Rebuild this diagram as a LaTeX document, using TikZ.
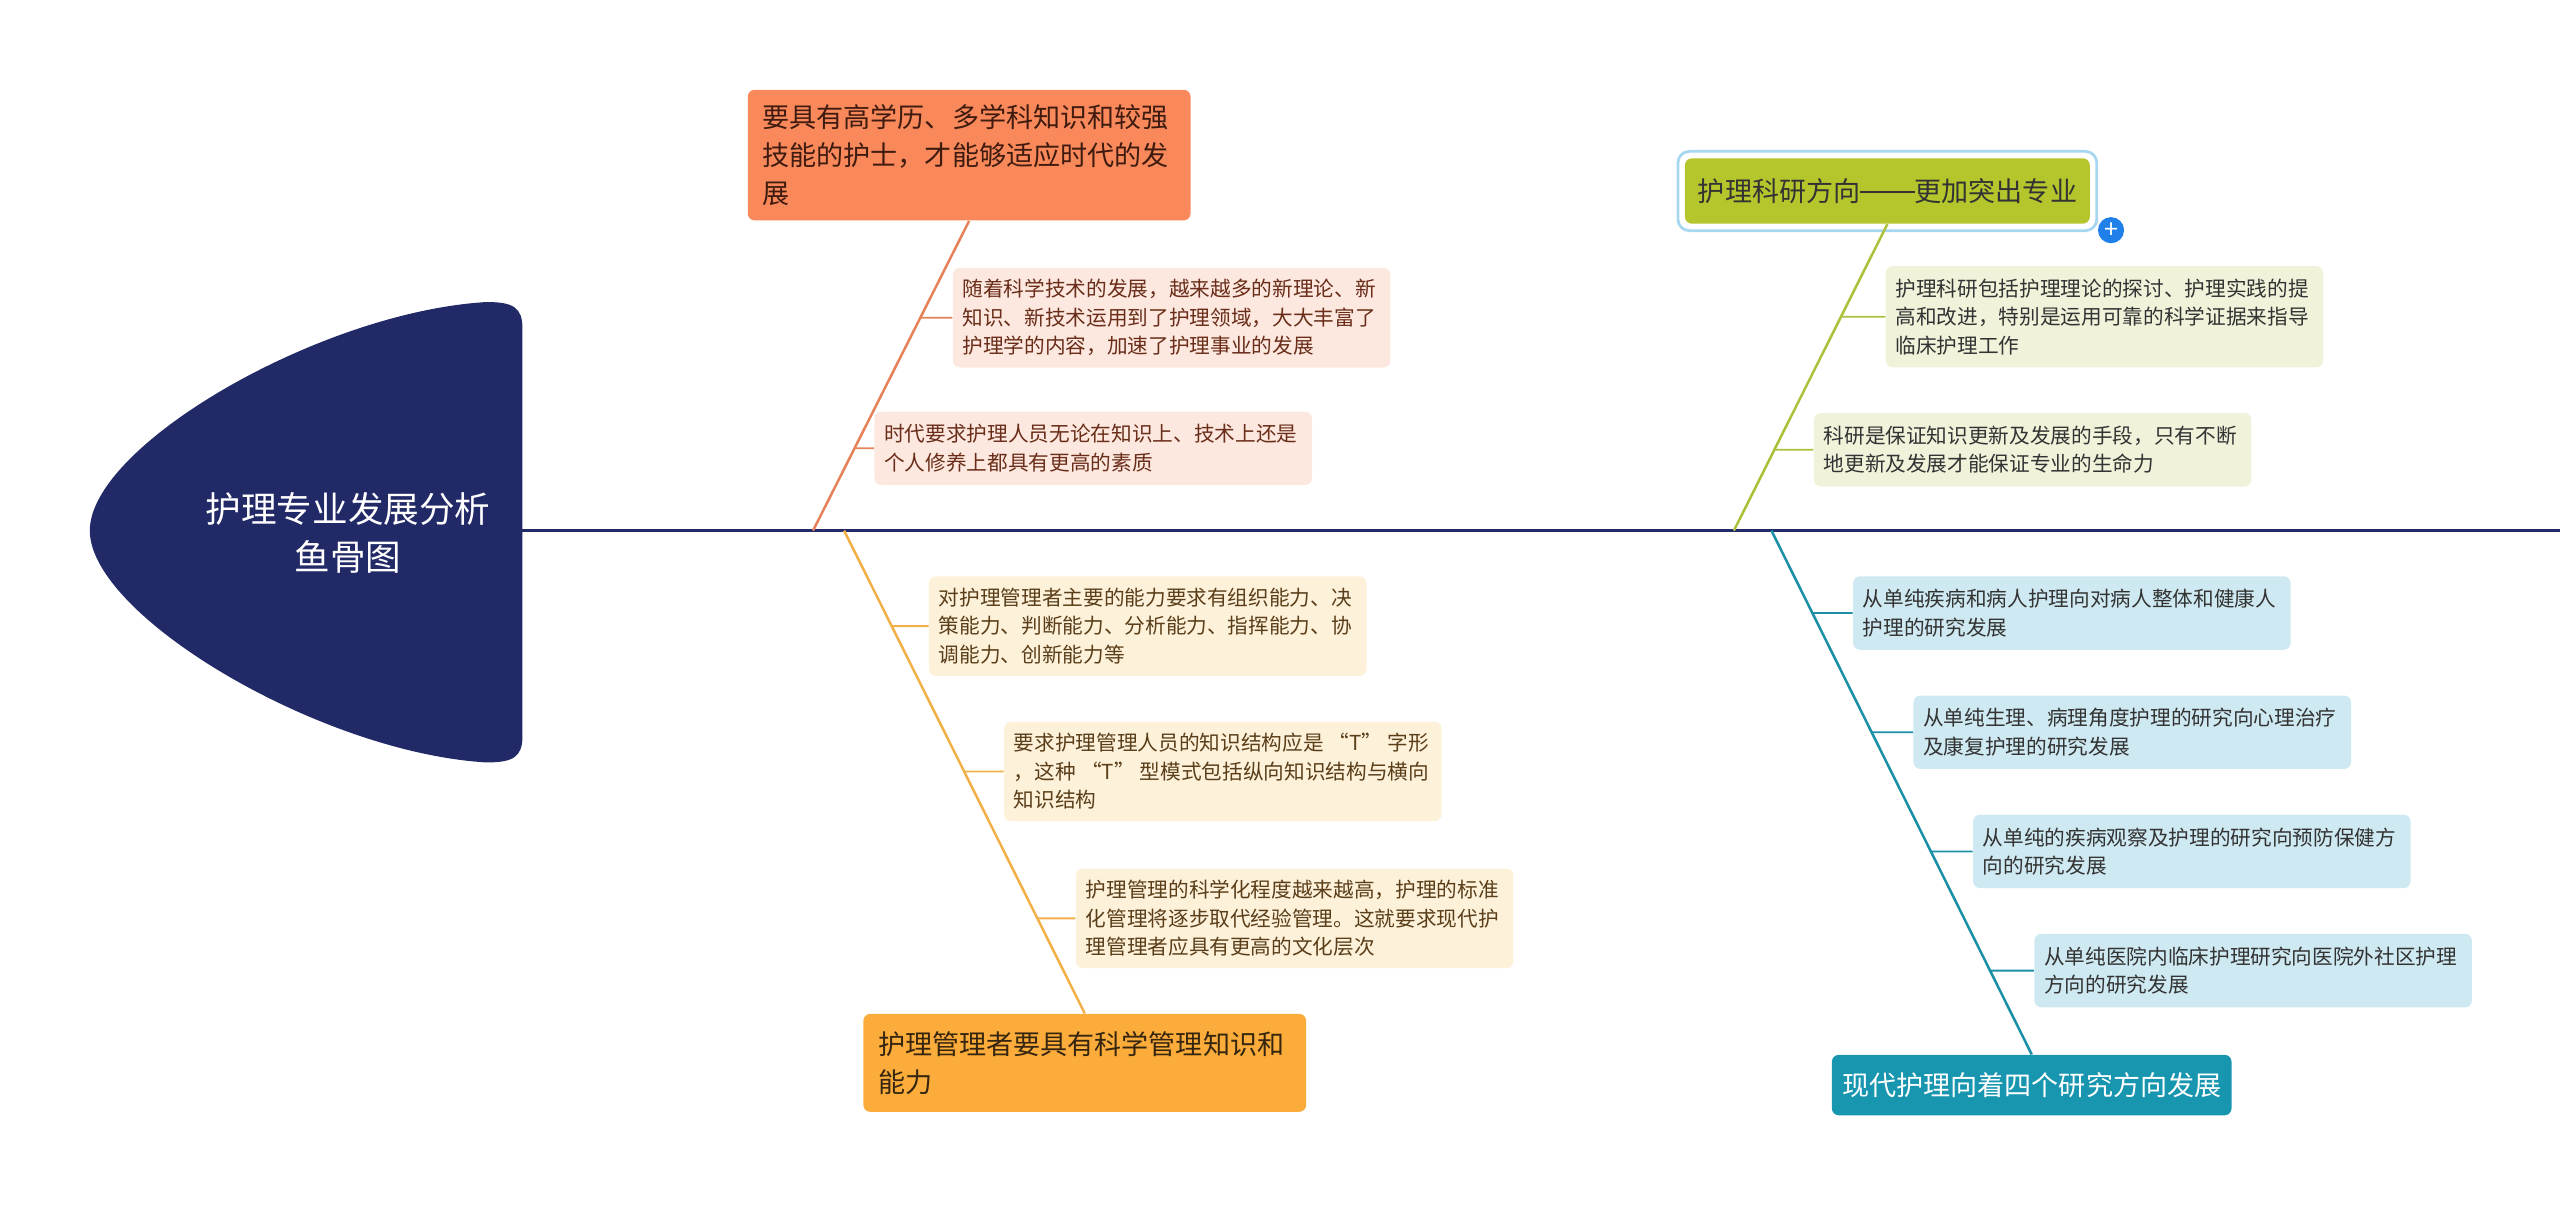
\documentclass[tikz,border=0pt]{standalone}
\usepackage{fontspec}
\setmainfont{Noto Sans CJK SC}
\usepackage{tikz}
\usetikzlibrary{positioning,calc}
\usepackage{xcolor}
\definecolor{fbnavy}{RGB}{33,41,102}
\definecolor{fborange}{RGB}{249,137,91}
\definecolor{fborangeline}{RGB}{229,130,90}
\definecolor{fborangelight}{RGB}{253,232,223}
\definecolor{fborangetext}{RGB}{105,45,25}
\definecolor{fbyellow}{RGB}{251,172,58}
\definecolor{fbyellowline}{RGB}{242,176,72}
\definecolor{fbyellowlight}{RGB}{254,241,218}
\definecolor{fbyellowtext}{RGB}{90,62,25}
\definecolor{fbgreen}{RGB}{181,198,45}
\definecolor{fbgreenline}{RGB}{172,192,58}
\definecolor{fbgreenlight}{RGB}{240,242,218}
\definecolor{fbteal}{RGB}{24,150,176}
\definecolor{fbtealline}{RGB}{26,143,165}
\definecolor{fbteallight}{RGB}{206,233,241}
\definecolor{fbselect}{RGB}{166,214,240}
\definecolor{fbplus}{RGB}{30,128,232}
\definecolor{fbtext}{RGB}{51,51,51}
\newcommand{\longdash}{\rule[0.32em]{2em}{0.06em}}
\newcommand{\quoteT}{\kern0.25em“T”\kern0.25em}
\tikzstyle{bone} = [line width=1.1pt]
\tikzstyle{twig} = [line width=0.8pt]
\tikzstyle{topic} = [rectangle, rounded corners=3pt, text width=6.33cm, inner xsep=0.225cm, align=left, font=\fontsize{11.8pt}{16.4pt}\selectfont]
\tikzstyle{detail} = [rectangle, rounded corners=3pt, text width=6.4cm, inner xsep=0.15cm, minimum height=1.125cm, align=left, font=\fontsize{9pt}{12.4pt}\selectfont]

\begin{document}
\begin{tikzpicture}
    \useasboundingbox (0,-10.325) rectangle (39.2,8.125);

    % Head
    \fill[fbnavy] (8.0,0) -- (8.0,3.1) .. controls (8.0,3.42) and (7.85,3.5) .. (7.45,3.5)
        .. controls (4.9,3.35) and (1.375,1.3) .. (1.375,0)
        .. controls (1.375,-1.3) and (4.9,-3.4) .. (7.45,-3.55)
        .. controls (7.85,-3.55) and (8.0,-3.47) .. (8.0,-3.15) -- cycle;
    \node[font=\fontsize{15.5pt}{21pt}\selectfont, text=white, align=center] (title) at (5.33,-0.03) {护理专业发展分析\\鱼骨图};

    % Spine
    \coordinate (spineL) at (8.0,0);
    \coordinate (spineR) at (39.2,0);
    \draw[fbnavy, line width=1pt] (spineL) -- (spineR);

    % Upper left
    \node[topic, fill=fborange, text=fborangetext!60!black, minimum height=2.0cm] (oMain) at (14.84,5.75) {要具有高学历、多学科知识和较强\\技能的护士，才能够适应时代的发\\展};
    \node[detail, fill=fborangelight, text=fborangetext, minimum height=1.525cm] (o1) at (17.94,3.26) {随着科学技术的发展，越来越多的新理论、新\\知识、新技术运用到了护理领域，大大丰富了\\护理学的内容，加速了护理事业的发展};
    \node[detail, fill=fborangelight, text=fborangetext] (o2) at (16.74,1.26) {时代要求护理人员无论在知识上、技术上还是\\个人修养上都具有更高的素质};
    \coordinate (oBase) at (12.45,0);
    \draw[bone, fborangeline] (oMain.south) -- (oBase);
    \foreach \n in {o1,o2}
        \draw[twig, fborangeline] (\n.west) -- (intersection of oMain.south--oBase and \n.west--\n.east);

    % Lower left
    \node[topic, fill=fbyellow, text=fbyellowtext!60!black, minimum height=1.5cm] (yMain) at (16.61,-8.15) {护理管理者要具有科学管理知识和\\能力};
    \node[detail, fill=fbyellowlight, text=fbyellowtext, minimum height=1.525cm] (y1) at (17.575,-1.4625) {对护理管理者主要的能力要求有组织能力、决\\策能力、判断能力、分析能力、指挥能力、协\\调能力、创新能力等};
    \node[detail, fill=fbyellowlight, text=fbyellowtext, minimum height=1.525cm] (y2) at (18.725,-3.6875) {要求护理管理人员的知识结构应是\quoteT 字形\\，这种\quoteT 型模式包括纵向知识结构与横向\\知识结构};
    \node[detail, fill=fbyellowlight, text=fbyellowtext, minimum height=1.525cm] (y3) at (19.825,-5.9375) {护理管理的科学化程度越来越高，护理的标准\\化管理将逐步取代经验管理。这就要求现代护\\理管理者应具有更高的文化层次};
    \coordinate (yBase) at (12.925,0);
    \draw[bone, fbyellowline] (yBase) -- (yMain.north);
    \foreach \n in {y1,y2,y3}
        \draw[twig, fbyellowline] (\n.west) -- (intersection of yBase--yMain.north and \n.west--\n.east);

    % Upper right
    \node[topic, fill=fbgreen, text=fbtext, text width=5.8cm, inner xsep=0.2cm, minimum height=1.0cm] (gMain) at (28.9,5.2) {护理科研方向\longdash 更加突出专业};
    \draw[fbselect, line width=1.2pt, rounded corners=5pt] ($(gMain.south west)+(-0.1,-0.1)$) rectangle ($(gMain.north east)+(0.1,0.1)$);
    \node[circle, fill=fbplus, text=white, minimum size=0.4cm, inner sep=0pt, font=\fontsize{11pt}{11pt}\selectfont] (plus) at (32.325,4.6) {+};
    \node[detail, fill=fbgreenlight, text=fbtext, minimum height=1.55cm] (g1) at (32.225,3.275) {护理科研包括护理理论的探讨、护理实践的提\\高和改进，特别是运用可靠的科学证据来指导\\临床护理工作};
    \node[detail, fill=fbgreenlight, text=fbtext] (g2) at (31.125,1.2375) {科研是保证知识更新及发展的手段，只有不断\\地更新及发展才能保证专业的生命力};
    \coordinate (gBase) at (26.55,0);
    \draw[bone, fbgreenline] (gMain.south) -- (gBase);
    \foreach \n in {g1,g2}
        \draw[twig, fbgreenline] (\n.west) -- (intersection of gMain.south--gBase and \n.west--\n.east);

    % Lower right
    \node[topic, fill=fbteal, text=white, text width=5.8cm, inner xsep=0.16cm, minimum height=0.925cm] (tMain) at (31.11,-8.49) {现代护理向着四个研究方向发展};
    \node[detail, fill=fbteallight, text=fbtext] (t1) at (31.725,-1.2625) {从单纯疾病和病人护理向对病人整体和健康人\\护理的研究发展};
    \node[detail, fill=fbteallight, text=fbtext] (t2) at (32.65,-3.0875) {从单纯生理、病理角度护理的研究向心理治疗\\及康复护理的研究发展};
    \node[detail, fill=fbteallight, text=fbtext] (t3) at (33.5625,-4.9125) {从单纯的疾病观察及护理的研究向预防保健方\\向的研究发展};
    \node[detail, fill=fbteallight, text=fbtext] (t4) at (34.5,-6.7375) {从单纯医院内临床护理研究向医院外社区护理\\方向的研究发展};
    \coordinate (tBase) at (27.125,0);
    \draw[bone, fbtealline] (tBase) -- (tMain.north);
    \foreach \n in {t1,t2,t3,t4}
        \draw[twig, fbtealline] (\n.west) -- (intersection of tBase--tMain.north and \n.west--\n.east);
\end{tikzpicture}
\end{document}
